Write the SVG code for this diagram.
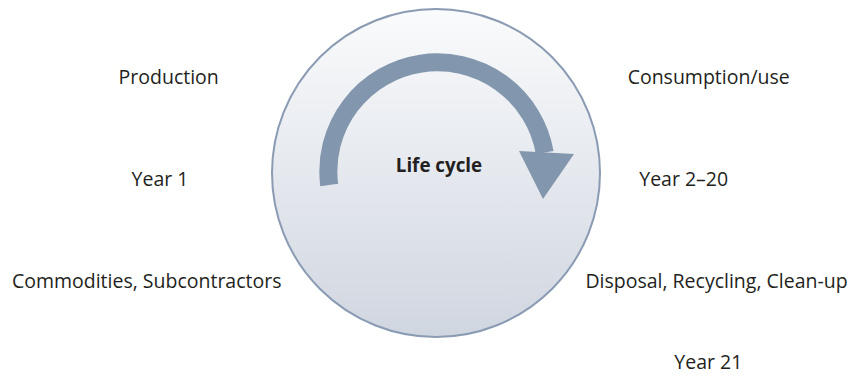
<svg xmlns="http://www.w3.org/2000/svg" width="852" height="376" viewBox="0 0 852 376">
  <defs>
    <linearGradient id="discFill" x1="0" y1="0" x2="0" y2="1">
      <stop offset="0" stop-color="#fafbfc"/>
      <stop offset="1" stop-color="#d0d6e0"/>
    </linearGradient>
  </defs>
  <style>
    .label { font-family: "Open Sans", "Noto Sans", sans-serif; font-size: 19.5px; fill: #231f20; text-anchor: middle; }
    .title { font-family: "Open Sans", "Noto Sans", sans-serif; font-size: 18.8px; font-weight: bold; fill: #231f20; text-anchor: middle; }
    .flow { fill: none; stroke: #8296ae; stroke-width: 18; }
    .head { fill: #8296ae; }
  </style>

  <!-- central life-cycle disc -->
  <g id="life-cycle">
    <circle cx="436" cy="173" r="164" fill="url(#discFill)" stroke="#8a9bb3" stroke-width="2"/>
    <text class="title" x="439" y="172">Life cycle</text>
  </g>

  <!-- curved cycle arrow -->
  <g id="connectors">
    <path class="flow" d="M329.2,185 A109,109 0 0 1 544.7,152.5"/>
    <polygon class="head" points="519,151 574,154 543,199"/>
  </g>

  <g id="production">
    <text class="label" x="168.7" y="84">Production</text>
  </g>
  <g id="year-1">
    <text class="label" x="160" y="186">Year 1</text>
  </g>
  <g id="commodities">
    <text class="label" x="146.7" y="288">Commodities, Subcontractors</text>
  </g>
  <g id="consumption">
    <text class="label" x="708.7" y="84">Consumption/use</text>
  </g>
  <g id="year-2-20">
    <text class="label" x="683.7" y="186">Year 2–20</text>
  </g>
  <g id="disposal">
    <text class="label" x="716.5" y="288">Disposal, Recycling, Clean-up</text>
  </g>
  <g id="year-21">
    <text class="label" x="708.3" y="369">Year 21</text>
  </g>
</svg>
